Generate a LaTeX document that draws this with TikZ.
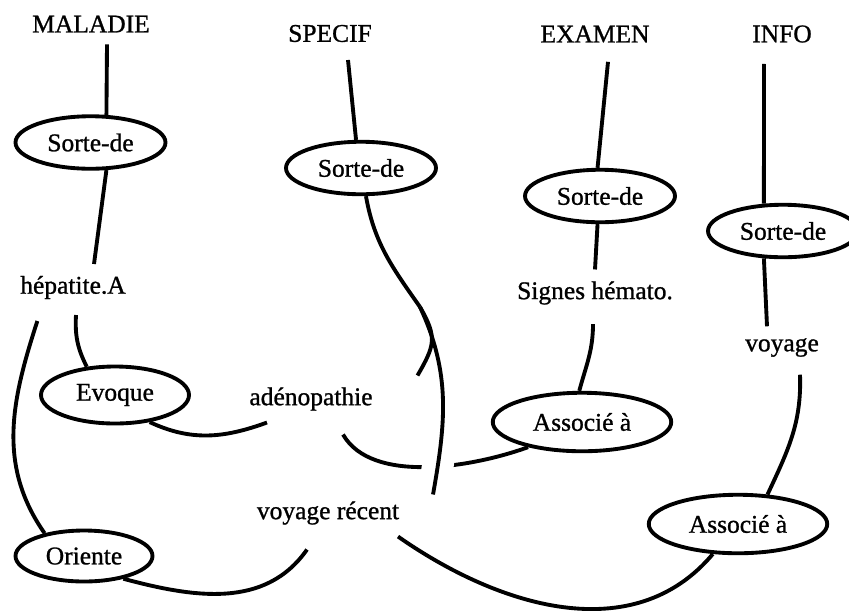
\documentclass[tikz,border=0pt]{standalone}
\usepackage{fontspec}
\setmainfont{Liberation Serif}[FakeBold=1]
\usetikzlibrary{shapes.geometric}

\begin{document}
\begin{tikzpicture}[font=\fontsize{14.5}{17}\selectfont, line width=2.2pt,
    concept/.style={inner sep=0.2cm},
    rel/.style={draw, ellipse, inner sep=1pt},
    sorte/.style={rel, minimum width=3cm, minimum height=1.05cm},
    assoc/.style={rel, minimum width=3.57cm, minimum height=1.17cm}]
      \useasboundingbox (0,0) rectangle (16.98,-12.2);
      \clip (0,0) rectangle (16.98,-12.2);

      \node[concept]  (MAL)  at ( 1.82,  -0.48)   {MALADIE};
      \node[concept]  (SPE)  at ( 6.60,  -0.67)   {SPECIF};
      \node[concept]  (EXA)  at (11.90,  -0.68)   {EXAMEN};
      \node[concept]  (INF)  at (15.64,  -0.68)   {INFO};

      \node[sorte]    (SdM)  at ( 1.81,  -2.85)   {Sorte-de};
      \node[sorte]    (SdS)  at ( 7.22,  -3.36)   {Sorte-de};
      \node[sorte]    (SdE)  at (12.00,  -3.92)   {Sorte-de};
      \node[sorte]    (SdI)  at (15.66,  -4.62)   {Sorte-de};

      \node[concept]  (HEP)  at ( 1.46,  -5.75)   {hépatite.A};
      \node[concept]  (SIG)  at (11.90,  -5.86)   {Signes hémato.};
      \node[concept]  (VOY)  at (15.64,  -6.95)   {voyage};
      \node[concept]  (ADE)  at ( 6.22,  -7.98)   {adénopathie};
      \node[concept]  (VRE)  at ( 6.56, -10.26)   {voyage récent};

      \node[rel, minimum width=2.96cm, minimum height=1.14cm]  (EVO)  at (2.30,  -7.90)  {Evoque};
      \node[rel, minimum width=2.74cm, minimum height=1.02cm]  (ORI)  at (1.68, -11.12)  {Oriente};
      \node[assoc]    (AsE)  at (11.64,  -8.44)   {Associé à};
      \node[assoc]    (AsI)  at (14.76, -10.48)   {Associé à};

      \coordinate (split) at (8.40, -6.14);

      \draw ([xshift=0.32cm]MAL.south) -- (SdM.60);
      \draw (SdM.-60) -- ([xshift=0.42cm]HEP.north);
      \draw ([xshift=0.06cm, yshift=-0.08cm]HEP.south) to[bend right=15] (EVO.135);
      \draw ([xshift=0.58cm, yshift=-0.2cm]HEP.south west) to[out=-108, in=125] (ORI.150);
      \draw (EVO.-38) to[out=-25, in=200] ([xshift=-0.88cm]ADE.south);
      \draw (ORI.-30) to[out=-15, in=235] ([xshift=-0.42cm, yshift=-0.26cm]VRE.south);

      \draw ([xshift=0.64cm, yshift=-0.24cm]ADE.south) to[out=-60, in=200, looseness=0.8] (AsE.-155);

      \draw ([xshift=0.36cm, yshift=-0.12cm]SPE.south) -- (SdS.100);
      \draw[preaction={draw, white, line width=18pt}] (split) to[out=-65, in=80] ([xshift=0.44cm, yshift=-0.1cm]VRE.north east);
      \draw (SdS.-80) to[out=-80, in=125] (split);
      \draw (split) to[out=-60, in=60, looseness=1.3] ([xshift=0.66cm]ADE.north east);

      \draw ([xshift=0.26cm, yshift=-0.15cm]EXA.south) -- (SdE.95);
      \draw (SdE.-95) -- (SIG.north);
      \draw ([xshift=-0.04cm, yshift=-0.15cm]SIG.south) to[out=-90, in=75] (AsE.95);

      \draw ([xshift=-0.36cm, yshift=-0.19cm]INF.south) -- (SdI.125);
      \draw (SdI.-125) -- ([xshift=-0.3cm]VOY.north);
      \draw ([xshift=0.36cm, yshift=-0.12cm]VOY.south) to[out=-88, in=65] (AsI.45);
      \draw (AsI.-130) to[out=-130, in=-35] ([xshift=-0.26cm]VRE.south east);
\end{tikzpicture}
\end{document}
